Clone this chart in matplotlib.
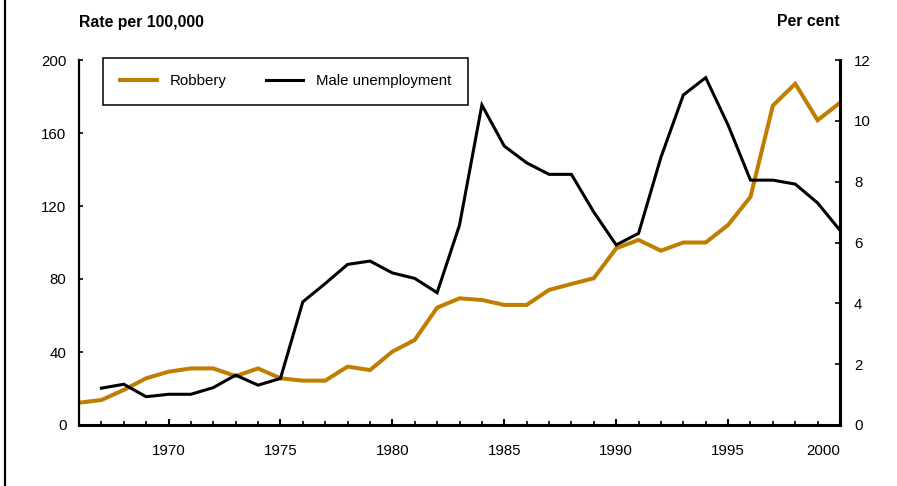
import matplotlib
matplotlib.use("Agg")
import matplotlib.pyplot as plt
from matplotlib.lines import Line2D
from matplotlib.ticker import MultipleLocator

plt.rcParams['font.family'] = ['Liberation Sans', 'DejaVu Sans']

# ---- data ----
robbery_years = list(range(1966, 2001))
robbery = [12.2, 13.7, 19.2, 25.6, 29.2, 31.0, 31.0, 26.8, 31.0, 25.6,
           24.3, 24.3, 32.0, 30.1, 40.2, 46.6, 64.3, 69.4, 68.5, 65.8,
           65.8, 74.0, 77.3, 80.4, 96.8, 101.4, 95.5, 100.0, 100.0, 109.6,
           125.0, 175.0, 187.0, 167.0, 176.6]

unemp_years = list(range(1967, 2001))
unemployment = [1.21, 1.34, 0.93, 1.01, 1.01, 1.23, 1.64, 1.31, 1.53, 4.05,
                4.65, 5.28, 5.39, 5.00, 4.82, 4.35, 6.57, 10.52, 9.17, 8.62,
                8.24, 8.24, 7.00, 5.92, 6.30, 8.80, 10.85, 11.42, 9.86, 8.05,
                8.05, 7.92, 7.30, 6.40]

left_ticks = [0, 40, 80, 120, 160, 200]
right_ticks = [0, 2, 4, 6, 8, 10, 12]
x_ticks = [1970, 1975, 1980, 1985, 1990, 1995, 2000]

ROB_COLOR = '#BF7E00'

W, H = 897, 486
fig = plt.figure(figsize=(W / 100, H / 100), dpi=100)
ax = fig.add_axes([79 / W, 1 - 425 / H, (840 - 79) / W, (425 - 60) / H])
ax2 = ax.twinx()

l1, = ax.plot(robbery_years, robbery, color=ROB_COLOR, lw=2.9,
              solid_joinstyle='miter', label='Robbery')
l2, = ax2.plot(unemp_years, unemployment, color='black', lw=2.2,
               solid_joinstyle='miter', label='Male unemployment')

ax.set_xlim(1966, 2000)
ax.set_ylim(0, 200)
ax2.set_ylim(0, 12)
ax.set_yticks(left_ticks)
ax2.set_yticks(right_ticks)
ax.set_xticks(x_ticks)
ax.xaxis.set_minor_locator(MultipleLocator(1))

for a in (ax, ax2):
    a.spines['top'].set_visible(False)
    a.set_facecolor('none')
ax.spines['left'].set_linewidth(1.6)
ax.spines['bottom'].set_linewidth(2.2)
ax2.spines['right'].set_linewidth(2.2)
ax2.spines['left'].set_visible(False)
ax2.spines['bottom'].set_visible(False)

fs = 10.8
ax.tick_params(axis='y', direction='in', length=3, width=1.2, pad=9, labelsize=fs)
ax2.tick_params(axis='y', direction='in', length=3.5, width=1.2, pad=10, labelsize=fs)
ax.tick_params(axis='x', which='major', direction='in', length=4, width=1.5,
               pad=13.5, labelsize=fs)
ax.tick_params(axis='x', which='minor', direction='in', length=3, width=1.2)

lbls = ax.get_xticklabels()
lbls[-1].set_horizontalalignment('right')

fig.text(79 / W, 1 - 22 / H, 'Rate per 100,000', fontsize=11.4, fontweight='bold',
         ha='left', va='center')
fig.text(840 / W, 1 - 21 / H, 'Per cent', fontsize=11.4, fontweight='bold',
         ha='right', va='center')

leg = ax2.legend(handles=[l1, l2], loc='upper left', ncol=2,
                 bbox_to_anchor=(103 / W, 1 - 58 / H), bbox_transform=fig.transFigure,
                 borderaxespad=0, fontsize=10.8, frameon=True, fancybox=False,
                 edgecolor='black', handlelength=2.5, handletextpad=0.85,
                 columnspacing=2.6, borderpad=1.1)
leg.get_frame().set_linewidth(1.1)
leg.get_frame().set_alpha(1)

fig.add_artist(Line2D([5 / W, 5 / W], [0, 1], transform=fig.transFigure,
                      color='black', lw=1.6))

fig.savefig('out.png', dpi=100)
